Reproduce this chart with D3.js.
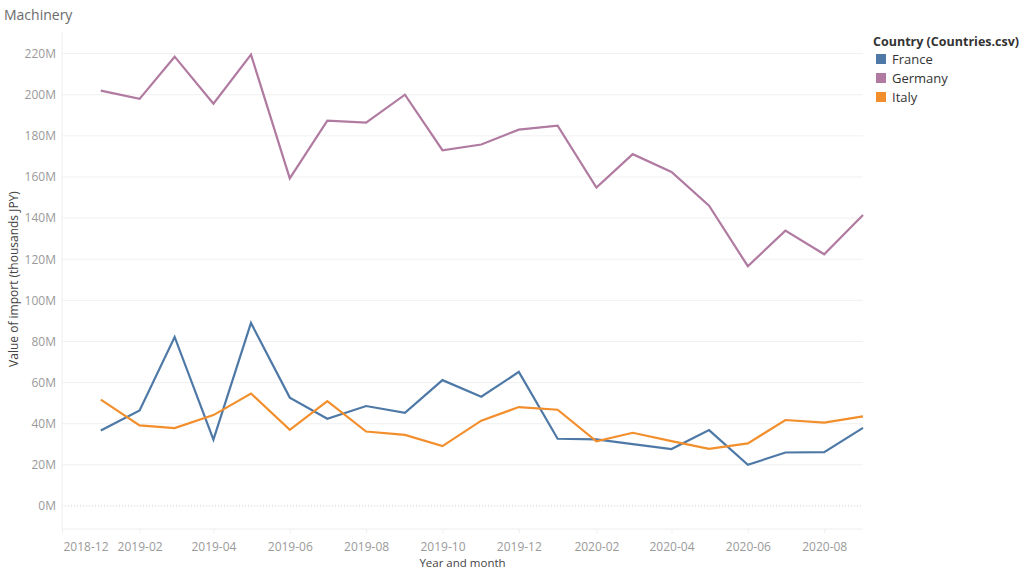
<!DOCTYPE html>
<html>
<head>
  <title>Machinery</title>
  <script src="https://d3js.org/d3.v7.min.js"></script>
  <style>
    body { margin: 0; background: #fff; }
    text { font-family: "Open Sans", "Noto Sans", sans-serif; }
  </style>
</head>
<body>
  <svg width="1024" height="576" id="mainsvg"></svg>
  <script>
    // months of the series
    const months = ["2019-01", "2019-02", "2019-03", "2019-04", "2019-05", "2019-06", "2019-07",
      "2019-08", "2019-09", "2019-10", "2019-11", "2019-12", "2020-01", "2020-02", "2020-03",
      "2020-04", "2020-05", "2020-06", "2020-07", "2020-08", "2020-09"];
    // import values, millions of thousands JPY
    const france = [36.7, 46.5, 82.2, 32.3, 89.0, 52.7, 42.4, 48.6, 45.3, 61.2, 53.1, 65.2,
      32.7, 32.4, 30.1, 27.7, 36.9, 20.0, 26.0, 26.2, 38.0];
    const germany = [202.0, 198.0, 218.5, 195.6, 219.5, 159.3, 187.4, 186.4, 200.0, 173.0, 175.8, 183.0,
      185.0, 154.8, 171.1, 162.4, 146.0, 116.6, 133.9, 122.4, 141.5];
    const italy = [51.7, 39.2, 37.9, 44.2, 54.7, 37.0, 51.0, 36.2, 34.6, 29.1, 41.5, 48.1,
      46.8, 31.4, 35.6, 31.5, 27.8, 30.4, 41.8, 40.5, 43.6];
    const countries = ["France", "Germany", "Italy"];
    const colors = ["#4e79a7", "#b07aa1", "#f28e2b"];
    const yTicks = [0, 20, 40, 60, 80, 100, 120, 140, 160, 180, 200, 220];
    const xTicks = ["2018-12", "2019-02", "2019-04", "2019-06", "2019-08", "2019-10", "2019-12",
      "2020-02", "2020-04", "2020-06", "2020-08"];

    const svg = d3.select('#mainsvg');
    const plotL = 62, plotR = 863, plotT = 32, plotB = 529;
    const parse = d3.timeParse("%Y-%m");

    const x = d3.scaleTime()
      .domain([parse("2018-12"), parse("2020-09")])
      .range([plotL, plotR]);
    const y = d3.scaleLinear()
      .domain([-11.2, 230.5])
      .range([plotB, plotT]);

    // title
    svg.append('text')
      .attr('x', 4).attr('y', 20)
      .attr('font-size', 14).attr('fill', '#6b6b6b')
      .text('Machinery');

    // grid lines
    svg.append('g').selectAll('line').data(yTicks).enter().append('line')
      .attr('x1', plotL).attr('x2', plotR)
      .attr('y1', d => y(d)).attr('y2', d => y(d))
      .attr('stroke', d => d === 0 ? '#d0d0d0' : '#f0f0f0')
      .attr('stroke-dasharray', d => d === 0 ? '1,2' : null)
      .attr('stroke-width', 1);

    // axis frame
    svg.append('line').attr('x1', plotL).attr('x2', plotL).attr('y1', plotT).attr('y2', plotB)
      .attr('stroke', '#eeeeee');
    svg.append('line').attr('x1', plotL).attr('x2', plotR).attr('y1', plotB).attr('y2', plotB)
      .attr('stroke', '#eeeeee');

    // y axis
    const yAxis = svg.append('g')
      .attr('transform', `translate(${plotL},0)`)
      .call(d3.axisLeft(y).tickValues(yTicks).tickSize(0).tickPadding(6).tickFormat(d => d + 'M'));
    yAxis.select('.domain').remove();
    yAxis.selectAll('text').attr('font-size', 12).attr('fill', '#9a9a9a')
      .style('font-family', '"Open Sans", sans-serif');

    // x axis
    const xAxis = svg.append('g')
      .attr('transform', `translate(0,${plotB})`)
      .call(d3.axisBottom(x).tickValues(xTicks.map(parse)).tickSize(4)
        .tickFormat(d3.timeFormat("%Y-%m")));
    xAxis.select('.domain').remove();
    xAxis.selectAll('line').attr('stroke', '#eeeeee');
    xAxis.selectAll('text').attr('font-size', 12).attr('fill', '#9a9a9a')
      .attr('dy', '1.25em')
      .style('font-family', '"Open Sans", sans-serif');
    // first label is pushed inside the plot, as the original does
    xAxis.selectAll('text').filter((d, i) => i === 0)
      .attr('text-anchor', 'start').attr('x', 1);

    // axis titles
    svg.append('text')
      .attr('x', (plotL + plotR) / 2).attr('y', 567)
      .attr('text-anchor', 'middle').attr('font-size', 11.5).attr('fill', '#444')
      .text('Year and month');
    svg.append('text')
      .attr('transform', 'translate(18,279) rotate(-90)')
      .attr('text-anchor', 'middle').attr('font-size', 12).attr('fill', '#444')
      .text('Value of import (thousands JPY)');

    // lines
    const series = [france, germany, italy];
    const line = d3.line()
      .x((d, i) => x(parse(months[i])))
      .y(d => y(d));
    svg.append('g').selectAll('path').data(series).enter().append('path')
      .attr('d', d => line(d))
      .attr('fill', 'none')
      .attr('stroke', (d, i) => colors[i])
      .attr('stroke-width', 2.2)
      .attr('stroke-linejoin', 'miter');

    // legend
    const legend = svg.append('g').attr('transform', 'translate(873,0)');
    legend.append('text')
      .attr('x', 0).attr('y', 46)
      .attr('font-size', 12.5).attr('font-weight', 'bold').attr('fill', '#333')
      .text('Country (Countries.csv)');
    const items = legend.selectAll('g.item').data(countries).enter().append('g')
      .attr('class', 'item')
      .attr('transform', (d, i) => `translate(0,${59 + i * 19})`);
    items.append('rect')
      .attr('x', 3).attr('y', -5).attr('width', 10).attr('height', 10)
      .attr('fill', (d, i) => colors[i]);
    items.append('text')
      .attr('x', 19).attr('y', 5)
      .attr('font-size', 13).attr('fill', '#333')
      .text(d => d);
  </script>
</body>
</html>
